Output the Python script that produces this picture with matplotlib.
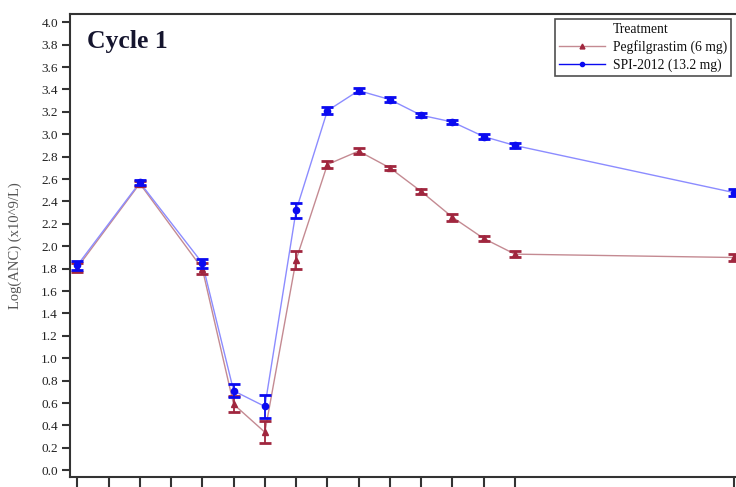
import matplotlib
matplotlib.use("Agg")
import matplotlib.pyplot as plt
from matplotlib.lines import Line2D
import numpy as np

# ---- data ----
time_pos = [0, 2, 4, 5, 6, 7, 8, 9, 10, 11, 12, 13, 14, 21]
x_ticks = [0, 1, 2, 3, 4, 5, 6, 7, 8, 9, 10, 11, 12, 13, 14, 21]

peg_mean = [1.81, 2.56, 1.80, 0.59, 0.34, 1.88, 2.73, 2.85, 2.70, 2.49, 2.26, 2.07, 1.93, 1.90]
peg_err = [0.04, 0.02, 0.05, 0.07, 0.10, 0.08, 0.03, 0.03, 0.02, 0.02, 0.03, 0.02, 0.03, 0.03]

spi_mean = [1.83, 2.57, 1.85, 0.71, 0.57, 2.32, 3.21, 3.39, 3.31, 3.17, 3.11, 2.98, 2.90, 2.48]
spi_err = [0.04, 0.02, 0.04, 0.06, 0.10, 0.07, 0.03, 0.02, 0.02, 0.02, 0.02, 0.02, 0.02, 0.03]

y_ticks = [round(v * 0.2, 1) for v in range(21)]

peg_label = "Pegfilgrastim (6 mg)"
spi_label = "SPI-2012 (13.2 mg)"
title_text = "Cycle 1"
ylabel_text = "Log(ANC) (x10^9/L)"
legend_title = "Treatment"

# ---- style ----
serif = ["Liberation Serif", "DejaVu Serif"]
plt.rcParams["font.family"] = serif

W, H = 736, 487
fig = plt.figure(figsize=(W / 100, H / 100), dpi=100)
left_px, right_px, top_px, bottom_px = 69.7, 745, 14, 477.3
ax = fig.add_axes([left_px / W, 1 - bottom_px / H,
                   (right_px - left_px) / W, (bottom_px - top_px) / H])

red_mk = "#A0263E"
red_ln = "#C48A92"
blue_mk = "#0A0AF0"
blue_ln = "#8C8CFF"

ax.plot(time_pos, peg_mean, color=red_ln, lw=1.0, zorder=2)
ax.errorbar(time_pos, peg_mean, yerr=peg_err, fmt="^", color=red_mk,
            ms=5, ecolor=red_mk, elinewidth=1.3, capsize=4.5, capthick=2.0,
            zorder=3)
ax.plot(time_pos, spi_mean, color=blue_ln, lw=1.0, zorder=2)
ax.errorbar(time_pos, spi_mean, yerr=spi_err, fmt="o", color=blue_mk,
            ms=4.5, ecolor=blue_mk, elinewidth=1.3, capsize=4.5, capthick=2.0,
            zorder=4)

ax.set_xlim(-0.243, 21.36)
ax.set_ylim(-0.0625, 4.074)
ax.set_xticks(x_ticks)
ax.set_xticklabels([])
ax.set_yticks(y_ticks)
ax.set_yticklabels([f"{v:.1f}" for v in y_ticks], fontsize=9.5, color="#222222")
ax.tick_params(axis="x", direction="out", length=12, width=1.5, color="#333333")
ax.tick_params(axis="y", direction="out", length=6, width=1.5, color="#333333", pad=2.5)
for s in ax.spines.values():
    s.set_linewidth(1.5)
    s.set_color("#333333")

fig.text(87 / W, 1 - 30 / H, title_text, fontsize=18.5,
         fontweight="bold", color="#15152e", va="top", ha="left")

fig.text(15 / W, 1 - 246 / H, ylabel_text, rotation=90, fontsize=10.5,
         color="#555555", ha="center", va="center")

handles = [Line2D([], [], color="none"),
           Line2D([], [], color=red_ln, lw=1.0, marker="^", ms=3.5,
                  markerfacecolor=red_mk, markeredgecolor=red_mk),
           Line2D([], [], color=blue_mk, lw=1.0, marker="o", ms=3,
                  markerfacecolor=blue_mk, markeredgecolor=blue_mk)]
labels = [legend_title, peg_label, spi_label]
leg = fig.legend(handles, labels, loc="upper left",
                 bbox_to_anchor=(555 / W, 1 - 19 / H), fontsize=9.8,
                 frameon=True, fancybox=False, edgecolor="#222222",
                 handlelength=3.4, handletextpad=0.55, labelspacing=0.32,
                 borderpad=0.3, borderaxespad=0)
leg.get_frame().set_linewidth(1.2)
for t in leg.get_texts():
    t.set_color("#111111")

fig.savefig("out.png", dpi=100)
